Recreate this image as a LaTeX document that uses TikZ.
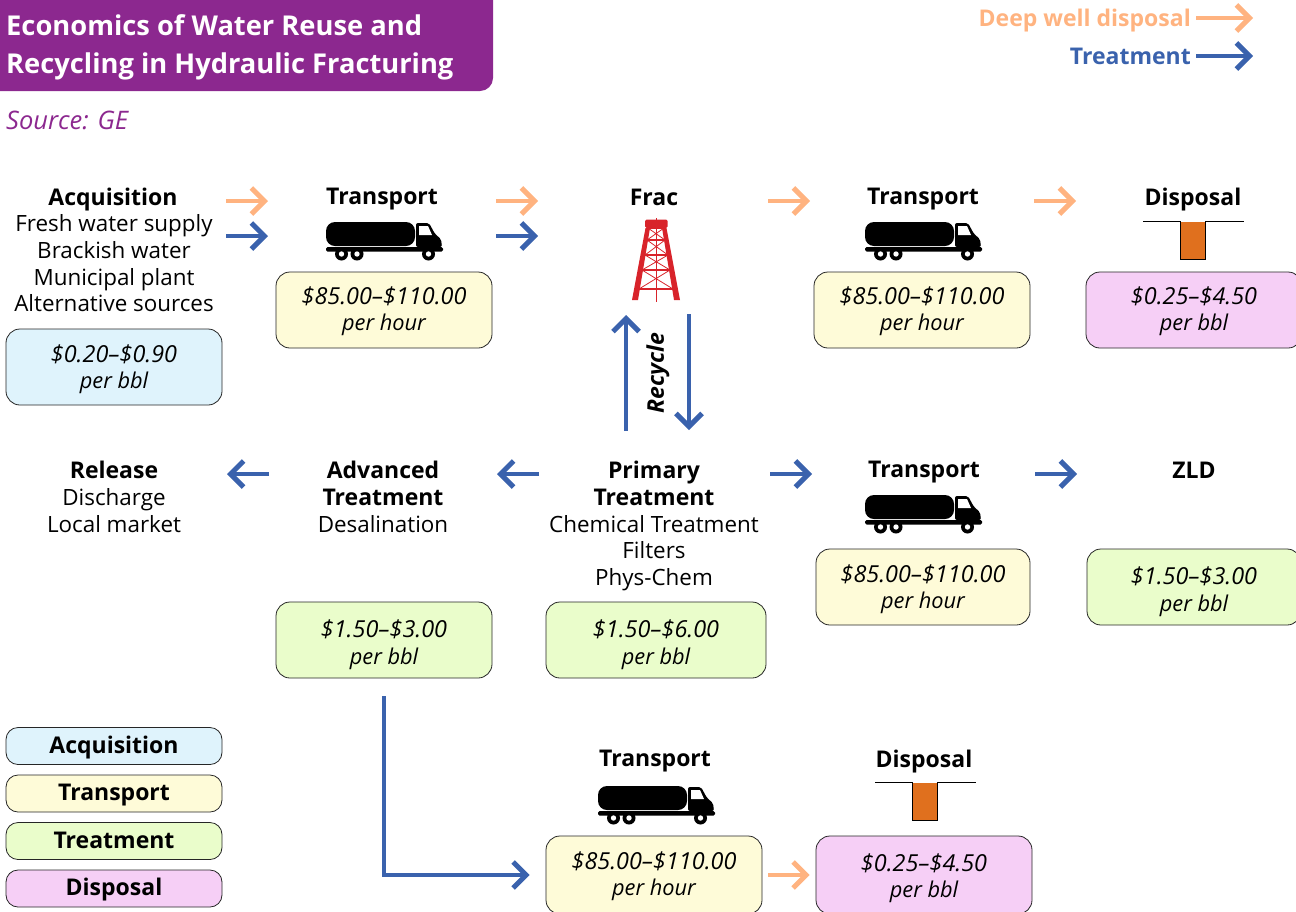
\documentclass[tikz,border=0pt]{standalone}
\usepackage{fontspec}
\setmainfont{Open Sans}
\usetikzlibrary{arrows.meta}
\definecolor{peach}{HTML}{FFB380}
\definecolor{flowblue}{HTML}{3A62AD}
\definecolor{titlepurple}{HTML}{8C288F}
\definecolor{acqfill}{HTML}{DFF3FC}
\definecolor{trafill}{HTML}{FEFBD8}
\definecolor{trtfill}{HTML}{EAFDCB}
\definecolor{disfill}{HTML}{F6CFF6}
\definecolor{rigred}{HTML}{D8232A}
\definecolor{pitorange}{HTML}{E0701E}
\newcommand{\bodysize}{\fontsize{22.4}{26.7}\selectfont}
\newcommand{\headsize}{\fontsize{23}{26.7}\selectfont\bfseries}
\newcommand{\amountsize}{\fontsize{23.4}{26.5}\selectfont}
\newcommand{\unitsize}{\fontsize{21.8}{26.5}\selectfont}
\tikzset{
  x=1pt,y=-1pt,
  flow/.style={line width=4.6pt,-{Straight Barb[length=13pt,width=26pt,line width=5pt]}},
  peachflow/.style={flow,draw=peach},
  blueflow/.style={flow,draw=flowblue},
  lab/.style={inner sep=0pt,align=center,font=\bodysize},
  head/.style={lab,font=\headsize},
  costbox/.style={draw=black!85,line width=0.8pt,rounded corners=14pt,inner sep=0pt},
  costtext/.style={inner sep=0pt,align=center,font=\unitsize\itshape},
  legbox/.style={draw=black!85,line width=0.8pt,rounded corners=12pt,inner sep=0pt,align=center,font=\headsize,minimum width=216pt,minimum height=37pt,text height=16pt,text depth=2pt},
  pics/truck/.style={code={
    \fill[black,rounded corners=9pt] (0,0) rectangle (89,24);
    \fill[black,rounded corners=1.5pt] (0,25) rectangle (117,29.5);
    \fill[black,rounded corners=2pt] (90,1) -- (103,1) -- (109,12) -- (115,17) -- (116,25) -- (90,25) -- cycle;
    \fill[white] (93,4) -- (102,4) -- (106,13) -- (93,13) -- cycle;
    \foreach \wx in {15.5,31,102.5}{
      \fill[black] (\wx,32) circle (6.5pt);
      \fill[white] (\wx,32) circle (2.7pt);
    }
  }},
  pics/pit/.style={code={
    \fill[pitorange] (37,1) rectangle (62,38);
    \draw[black,line width=0.8pt] (0,0) -- (37,0) -- (37,38.5) -- (62,38.5) -- (62,0) -- (101,0);
  }},
}
% name, fill, cx, cy, width, height, amount, unit, text offset
\newcommand{\costnode}[9]{%
  \node[costbox,fill=#2,minimum width=#5pt,minimum height=#6pt] (#1) at (#3,#4) {};
  \node[costtext,yshift=-#9pt] (#1t) at (#1.center) {{\amountsize #7}\\#8};}
\newcommand{\flowline}[6]{%
  \coordinate (#1-a) at (#3,#5);\coordinate (#1-b) at (#4,#6);
  \draw[#2] (#1-a) -- (#1-b);}
\begin{document}
\begin{tikzpicture}
\useasboundingbox (0,0) rectangle (1296,911);
\begin{scope}
\clip (0,0) rectangle (1296,911);
% title
\fill[titlepurple,rounded corners=13pt] (-20,-20) rectangle (493,91);
\node[anchor=west,inner sep=0pt,text=white,font=\fontsize{27.3}{38}\selectfont\bfseries,align=left] (title) at (6,47) {Economics of Water Reuse and\\Recycling in Hydraulic Fracturing};
\node[anchor=west,inner sep=0pt,text=titlepurple,font=\fontsize{25.5}{28}\selectfont\itshape] (source) at (6,120) {Source: GE};
% key
\node[anchor=east,inner sep=0pt,text=peach,font=\headsize] (keydeep) at (1191,21) {Deep well disposal};
\node[anchor=east,inner sep=0pt,text=flowblue,font=\headsize] (keytreat) at (1191,56.5) {Treatment};
\flowline{kd}{peachflow}{1196}{1253}{18}{18}
\flowline{kt}{blueflow}{1196}{1253}{56}{56}
% top row
\node[head] (acqh) at (113,199.5) {Acquisition};
\node[lab,anchor=north] (acqt) at (114,214.5) {Fresh water supply\\Brackish water\\Municipal plant\\Alternative sources};
\costnode{acqb}{acqfill}{114}{367}{216}{76}{\$0.20–\$0.90}{per bbl}{2}
\node[head] (t1h) at (382,199.5) {Transport};
\pic (t1) at (326,222) {truck};
\costnode{t1b}{trafill}{384}{310}{216}{76}{\$85.00–\$110.00}{per hour}{1}
\node[head] (frach) at (654,197) {Frac};
\node[head] (t2h) at (923,199.5) {Transport};
\pic (t2) at (865,222) {truck};
\costnode{t2b}{trafill}{922}{310}{216}{76}{\$85.00–\$110.00}{per hour}{1}
\node[head] (d1h) at (1193,199.5) {Disposal};
\pic (d1) at (1143,221) {pit};
\costnode{d1b}{disfill}{1194}{310}{216}{76}{\$0.25–\$4.50}{per bbl}{1}
% rig
\begin{scope}[rigred]
  \draw[line width=1pt] (656,218) -- (656,302);
  \fill[rounded corners=1.5pt] (645,219.5) rectangle (667.5,228);
  \fill (645.5,228) -- (650,228) -- (638,300) -- (632,300) -- cycle;
  \fill (662,228) -- (666.5,228) -- (680,300) -- (674,300) -- cycle;
  \draw[line width=1.2pt] (648,228) -- (664,228)
    (647,240) -- (665,240) (645,255) -- (668,255) (642,270) -- (670,270) (639,289) -- (673,289);
  \draw[line width=0.8pt] (647,240) -- (668,255) (665,240) -- (645,255)
    (645,255) -- (670,270) (668,255) -- (642,270)
    (642,270) -- (673,289) (670,270) -- (639,289)
    (648,228) -- (665,240) (664,228) -- (647,240);
\end{scope}
\node[inner sep=0pt,rotate=90,font=\headsize\itshape] (recy) at (658,373) {Recycle};
% middle row
\node[head] (relh) at (114,470) {Release};
\node[lab,anchor=north] (relt) at (114,488.5) {Discharge\\Local market};
\node[head,anchor=north] (advh) at (383,461) {Advanced\\Treatment};
\node[lab] (advt) at (383,524) {Desalination};
\costnode{advb}{trtfill}{384}{640}{216}{76}{\$1.50–\$3.00}{per bbl}{4.5}
\node[head,anchor=north] (prih) at (654,461) {Primary\\Treatment};
\node[lab,anchor=north] (prit) at (654,515) {Chemical Treatment\\Filters\\Phys-Chem};
\costnode{prib}{trtfill}{656}{640}{220}{76}{\$1.50–\$6.00}{per bbl}{4.5}
\node[head] (t3h) at (924,472.5) {Transport};
\pic (t3) at (865,495) {truck};
\costnode{t3b}{trafill}{923}{587}{214}{76}{\$85.00–\$110.00}{per hour}{2}
\node[head] (zldh) at (1194,470) {ZLD};
\costnode{zldb}{trtfill}{1194}{587}{214}{76}{\$1.50–\$3.00}{per bbl}{4.5}
% bottom
\node[head] (t4h) at (655,761.5) {Transport};
\pic (t4) at (598,786) {truck};
\costnode{t4b}{trafill}{654}{875}{216}{78}{\$85.00–\$110.00}{per hour}{1}
\node[head] (d2h) at (924,761.5) {Disposal};
\pic (d2) at (875,782) {pit};
\costnode{d2b}{disfill}{924}{875}{216}{78}{\$0.25–\$4.50}{per bbl}{3}
% legend
\node[legbox,fill=acqfill] (la) at (114,746) {Acquisition};
\node[legbox,fill=trafill] (lb) at (114,793.5) {Transport};
\node[legbox,fill=trtfill] (lc) at (114,841) {Treatment};
\node[legbox,fill=disfill] (ld) at (114,888.5) {Disposal};
% flows
\flowline{p1}{peachflow}{226}{268}{201}{201}
\flowline{b1}{blueflow}{226}{268}{236}{236}
\flowline{p2}{peachflow}{496}{538}{201}{201}
\flowline{b2}{blueflow}{496}{538}{236}{236}
\flowline{p3}{peachflow}{768}{810}{201}{201}
\flowline{p4}{peachflow}{1034}{1076}{201}{201}
\flowline{ru}{blueflow}{626}{626}{431}{315}
\flowline{rd}{blueflow}{689}{689}{314}{430}
\flowline{m1}{blueflow}{269}{227}{474}{474}
\flowline{m2}{blueflow}{539}{497}{474}{474}
\flowline{m3}{blueflow}{770}{812}{474}{474}
\flowline{m4}{blueflow}{1035}{1077}{474}{474}
\draw[blueflow,shorten <=18pt,shorten >=16pt] (advb.south) |- (t4b.west);
\draw[peachflow,shorten <=6pt,shorten >=6pt] (t4b.east) -- (d2b.west);
\end{scope}
\end{tikzpicture}
\end{document}
